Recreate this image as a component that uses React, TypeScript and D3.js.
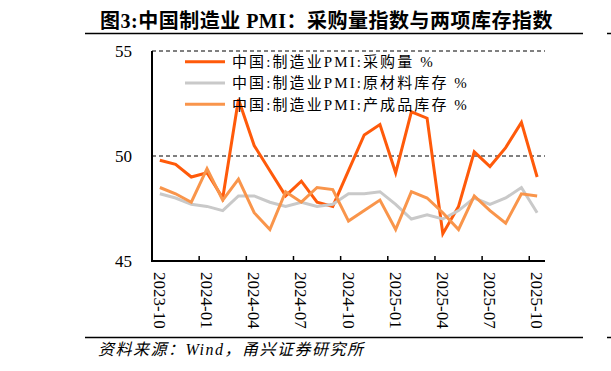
import React from 'react';
import * as d3 from 'd3';

// 月份（2023-10 至 2025-10）
const months = [
  '2023-10', '2023-11', '2023-12', '2024-01', '2024-02', '2024-03', '2024-04',
  '2024-05', '2024-06', '2024-07', '2024-08', '2024-09', '2024-10', '2024-11',
  '2024-12', '2025-01', '2025-02', '2025-03', '2025-04', '2025-05', '2025-06',
  '2025-07', '2025-08', '2025-09', '2025-10',
];
const purchase = [
  49.8, 49.6, 49.0, 49.2, 48.0, 52.7, 50.5, 49.3, 48.1, 48.8, 47.8, 47.6, 49.3,
  51.0, 51.5, 49.2, 52.1, 51.8, 46.3, 47.6, 50.2, 49.5, 50.4, 51.6, 49.0,
];
const rawInventory = [
  48.2, 48.0, 47.7, 47.6, 47.4, 48.1, 48.1, 47.8, 47.6, 47.8, 47.6, 47.7, 48.2,
  48.2, 48.3, 47.7, 47.0, 47.2, 47.0, 47.4, 48.0, 47.7, 48.0, 48.5, 47.3,
];
const finishedInventory = [
  48.5, 48.2, 47.8, 49.4, 47.9, 48.9, 47.3, 46.5, 48.3, 47.8, 48.5, 48.4, 46.9,
  47.4, 47.9, 46.5, 48.3, 48.0, 47.3, 46.5, 48.1, 47.4, 46.8, 48.2, 48.1,
];
const tickMonths = ['2023-10', '2024-01', '2024-04', '2024-07', '2024-10', '2025-01', '2025-04', '2025-07', '2025-10'];
const yTicks = [45, 50, 55];
const seriesNames = ['中国:制造业PMI:采购量 %', '中国:制造业PMI:原材料库存 %', '中国:制造业PMI:产成品库存 %'];
const colors = ['#FF5A0A', '#C9C9C9', '#F9954B'];

const W = 611;
const H = 371;
const FONT = "'Liberation Serif', 'Times New Roman', 'Noto Sans CJK SC', serif";

export default function App() {
  const x = d3.scaleBand<string>().domain(months).range([152, 545]);
  const y = d3.scaleLinear().domain([45, 55]).range([261, 51]);
  const cx = (m: string) => (x(m) ?? 0) + x.bandwidth() / 2;

  const line = d3
    .line<number>()
    .x((_, i) => cx(months[i]))
    .y((d) => y(d));

  const series = [purchase, rawInventory, finishedInventory];

  return (
    <svg width={W} height={H} style={{ position: 'absolute', left: 0, top: 0, background: '#fff' }}>
      <rect width={W} height={H} fill="#fff" />
      {/* 标题 */}
      <text x={326.5} y={28} textAnchor="middle" fontFamily={FONT} fontWeight="bold" fontSize={20} letterSpacing={0.5} fill="#000">
        图3:中国制造业 PMI：采购量指数与两项库存指数
      </text>
      <line x1={85} x2={583} y1={33.5} y2={33.5} stroke="#000" strokeWidth={1.5} />
      <line x1={607} x2={611} y1={33.5} y2={33.5} stroke="#000" strokeWidth={1.5} />

      {/* 网格 */}
      {[50, 55].map((v) => (
        <line key={v} x1={152} x2={545} y1={y(v)} y2={y(v)} stroke="#000" strokeWidth={1} strokeDasharray="4,3" />
      ))}

      {/* y 轴 */}
      <line x1={152} x2={152} y1={y(55)} y2={y(45) + 1} stroke="#000" strokeWidth={2} />
      {yTicks.map((v) => (
        <text key={v} x={132} y={y(v)} dy="0.35em" textAnchor="end" fontFamily={FONT} fontSize={17} fill="#000">
          {v}
        </text>
      ))}

      {/* 数据线 */}
      {series.map((s, i) => (
        <path key={i} d={line(s) ?? ''} fill="none" stroke={colors[i]} strokeWidth={3} strokeLinejoin="miter" />
      ))}

      {/* x 轴 */}
      <line x1={151} x2={545} y1={y(45)} y2={y(45)} stroke="#000" strokeWidth={2} />
      {tickMonths.map((m) => (
        <g key={m}>
          {m !== months[0] && (
            <line x1={x(m)} x2={x(m)} y1={y(45)} y2={y(45) - 5} stroke="#000" strokeWidth={1.5} />
          )}
          <text
            transform={`translate(${cx(m)},${272}) rotate(90)`}
            dy="0.35em"
            fontFamily={FONT}
            fontSize={17}
            fill="#000"
          >
            {m}
          </text>
        </g>
      ))}

      {/* 图例 */}
      {seriesNames.map((name, i) => (
        <g key={name} transform={`translate(185,${61.7 + i * 21.3})`}>
          <line x1={0} x2={40} y1={0} y2={0} stroke={colors[i]} strokeWidth={3} />
          <text x={47} y={0} dy="0.35em" fontFamily={FONT} fontSize={15} letterSpacing={2.1} fill="#000">
            {name}
          </text>
        </g>
      ))}

      {/* 来源 */}
      <line x1={85} x2={583} y1={337.5} y2={337.5} stroke="#000" strokeWidth={1.5} />
      <line x1={607} x2={611} y1={337.5} y2={337.5} stroke="#000" strokeWidth={1.5} />
      <text x={98} y={355} fontFamily={FONT} fontStyle="italic" fontSize={16} letterSpacing={1.5} fill="#000">
        资料来源：Wind，甬兴证券研究所
      </text>
    </svg>
  );
}
